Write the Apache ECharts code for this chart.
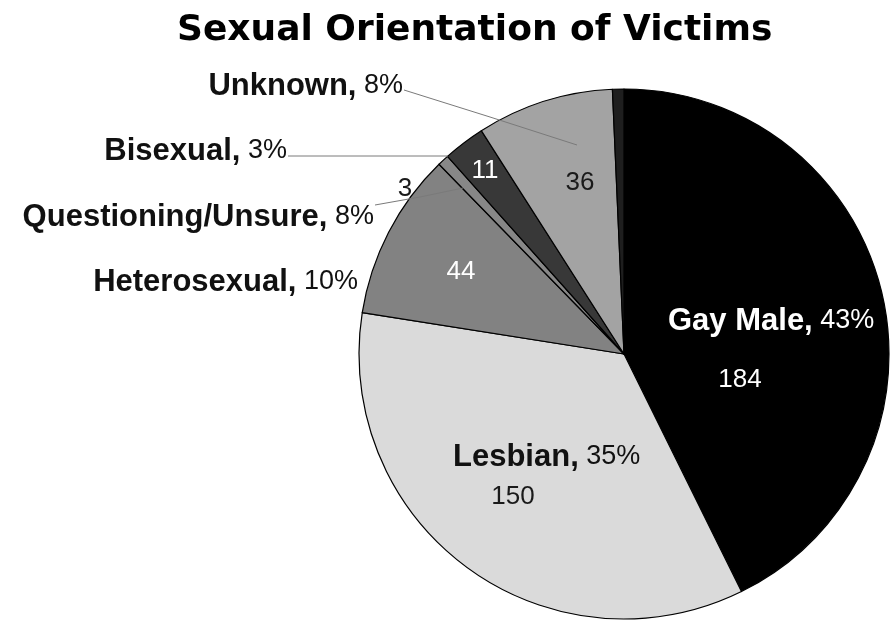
<!DOCTYPE html>
<html>
<head>
<meta charset="utf-8">
<title>Sexual Orientation of Victims</title>
<script src="https://cdn.jsdelivr.net/npm/echarts@6/dist/echarts.min.js"></script>
<style>
  html, body { margin: 0; padding: 0; background: #fff; }
  #chart { width: 896px; height: 624px; }
</style>
</head>
<body>
<div id="chart"></div>
<script>
// Victim counts by sexual orientation, clockwise from 12 o'clock
const categories = ['Gay Male', 'Lesbian', 'Heterosexual', 'Questioning/Unsure', 'Bisexual', 'Unknown', 'Other'];
const counts = [184, 150, 44, 3, 11, 36, 3];
const percentLabels = ['43%', '35%', '10%', '8%', '3%', '8%', ''];

// Slice fills (greyscale)
const sliceColors = ['#000000', '#dadada', '#828282', '#878787', '#383838', '#a3a3a3', '#1e1e1e'];

// Where each count and each category caption sits
const countLabelAt = [[740, 380], [513, 497], [461, 272], [405, 189], [485, 171], [580, 183], null];
const countLabelColor = ['#fff', '#1a1a1a', '#fff', '#1a1a1a', '#fff', '#1a1a1a', '#000'];
const nameLabelAt = [
  { x: 668, y: 321, align: 'left' },
  { x: 453, y: 457, align: 'left' },
  { x: 358, y: 282, align: 'right' },
  { x: 374, y: 217, align: 'right' },
  { x: 287, y: 151, align: 'right' },
  { x: 403, y: 86, align: 'right' },
  null
];
const nameLabelColor = ['#fff', '#111', '#111', '#111', '#111', '#111', '#111'];
// Leader lines from the outside captions into their slices
const leaderLines = [
  null, null, null,
  [[375, 205], [420, 197], [463, 188]],
  [[288, 156], [370, 156], [448, 156]],
  [[404, 90], [490, 117], [577, 145]],
  null
];

const pieCenter = [624, 354];
const pieRadius = 265;

const chart = echarts.init(document.getElementById('chart'), null, { renderer: 'canvas' });

const sliceData = categories.map((name, i) => ({
  name: name,
  value: counts[i],
  itemStyle: { color: sliceColors[i] },
  label: { show: countLabelAt[i] !== null, color: countLabelColor[i] }
}));

const captionData = categories.map((name, i) => ({
  name: name,
  value: counts[i],
  label: { show: nameLabelAt[i] !== null, color: nameLabelColor[i] },
  labelLine: { show: leaderLines[i] !== null }
}));

chart.setOption({
  animation: false,
  backgroundColor: '#ffffff',
  title: {
    text: 'Sexual Orientation of Victims',
    left: 172,
    top: 8,
    textStyle: {
      fontFamily: 'DejaVu Sans',
      fontWeight: 'bold',
      fontSize: 36,
      color: '#000'
    }
  },
  series: [
    {
      type: 'pie',
      center: pieCenter,
      radius: pieRadius,
      startAngle: 90,
      clockwise: true,
      avoidLabelOverlap: false,
      silent: true,
      itemStyle: { borderColor: '#000', borderWidth: 1.2 },
      label: {
        position: 'inside',
        formatter: '{c}',
        fontFamily: 'Liberation Sans',
        fontSize: 26,
        textBorderWidth: 0
      },
      labelLine: { show: false },
      labelLayout: function (p) {
        const at = countLabelAt[p.dataIndex];
        if (!at) return {};
        return { x: at[0], y: at[1], align: 'center', verticalAlign: 'middle' };
      },
      data: sliceData
    },
    {
      type: 'pie',
      center: pieCenter,
      radius: pieRadius,
      startAngle: 90,
      clockwise: true,
      avoidLabelOverlap: false,
      silent: true,
      z: 5,
      itemStyle: { color: 'rgba(0,0,0,0)', borderWidth: 0 },
      label: {
        position: 'outside',
        formatter: function (p) {
          return '{b|' + p.name + ',}{p| ' + percentLabels[p.dataIndex] + '}';
        },
        textBorderWidth: 0,
        rich: {
          b: { fontFamily: 'Liberation Sans', fontWeight: 'bold', fontSize: 31 },
          p: { fontFamily: 'Liberation Sans', fontSize: 27 }
        }
      },
      labelLine: {
        lineStyle: { color: '#7a7a7a', width: 1 }
      },
      labelLayout: function (p) {
        const at = nameLabelAt[p.dataIndex];
        if (!at) return {};
        const out = { x: at.x, y: at.y, align: at.align, verticalAlign: 'middle' };
        if (leaderLines[p.dataIndex]) out.labelLinePoints = leaderLines[p.dataIndex];
        return out;
      },
      data: captionData
    }
  ]
});
</script>
</body>
</html>
